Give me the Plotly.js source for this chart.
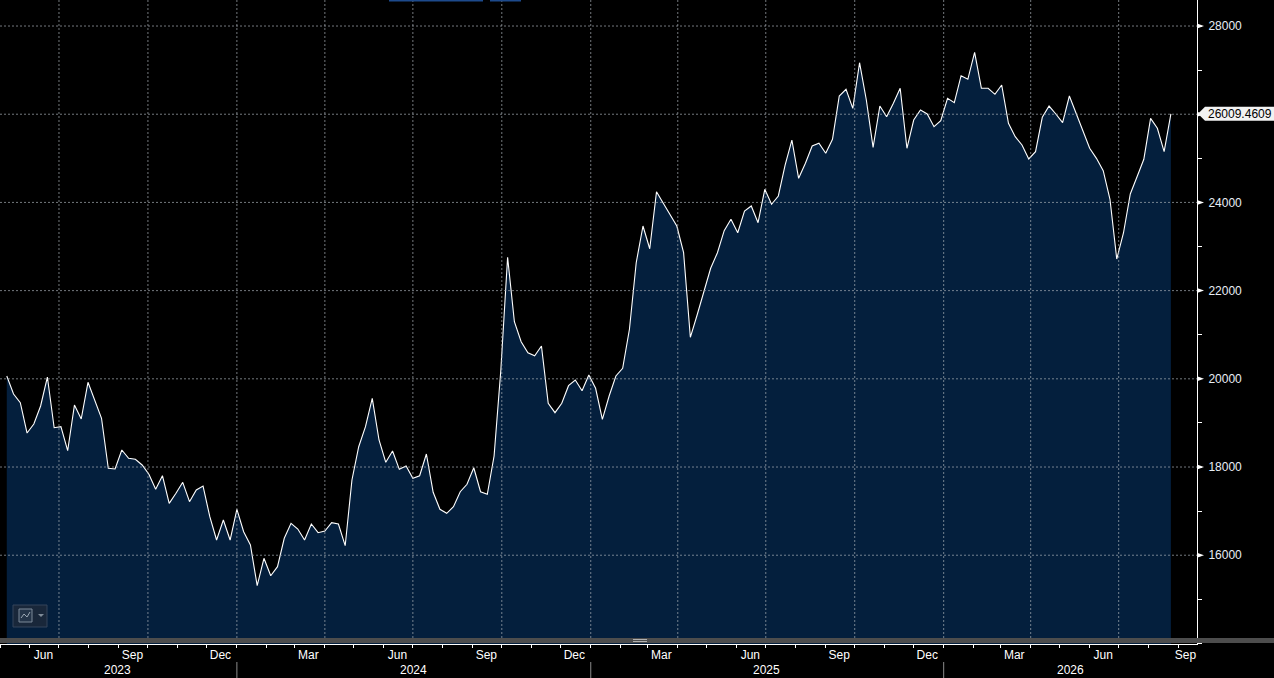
<!DOCTYPE html>
<html>
<head>
<meta charset="utf-8">
<script src="https://cdn.plot.ly/plotly-3.0.1.min.js"></script>
<style>
  html, body { margin: 0; padding: 0; background: #000; }
  #chart { width: 1274px; height: 678px; }
</style>
</head>
<body>
<div id="chart"></div>
<script>
// weekly closes, one array per calendar year
const startDate = "2023-05-08"
const values2023 = [20064, 19656, 19459, 18771, 18975, 19384, 20041, 18891, 18914, 18370,
  19406, 19089, 19921, 19520, 19105, 17971, 17955, 18386, 18198, 18175, 18046, 17835,
  17495, 17803, 17177, 17404, 17653, 17214, 17479, 17569, 16873, 16345, 16798, 16345]
const values2024 = [17041, 16533, 16232, 15309, 15930, 15535, 15740, 16384, 16724, 16594, 16345,
  16708, 16511, 16549, 16737, 16708, 16216, 17706, 18460, 18914, 19558, 18613, 18107, 18363,
  17948, 18023, 17744, 17803, 18295, 17427, 17041, 16950, 17100, 17440, 17608, 17984, 17440,
  17381, 18250, 20200, 22755, 21295, 20841, 20592, 20524, 20744, 19445, 19232, 19445, 19844,
  19973, 19730, 20086]
const values2025 = [19785, 19082, 19610, 20064, 20239, 21123, 22633, 23465, 22950, 24243,
  23980, 23730, 23465, 22860, 20941, 21447, 21998, 22506, 22860, 23359, 23617, 23313, 23805,
  23919, 23540, 24297, 23957, 24146, 24848, 25415, 24547, 24887, 25279, 25341, 25114, 25431,
  26413, 26565, 26134, 27168, 26322, 25250, 26186, 25944, 26248, 26588, 25227, 25869, 26096,
  26005, 25717, 25853]
const values2026 = [26361, 26261, 26873, 26792, 27404, 26588, 26588, 26452, 26663, 25794,
  25490, 25302, 24985, 25150, 25930, 26186, 26005, 25808, 26413, 26005, 25604, 25227, 25000,
  24719, 24071, 22717, 23313, 24191, 24583, 24978, 25907, 25681, 25150, 26009.4609]

const tickDates = ["2023-06-15", "2023-09-15", "2023-12-15", "2024-03-15", "2024-06-15",
  "2024-09-15", "2024-12-15", "2025-03-15", "2025-06-15", "2025-09-15", "2025-12-15",
  "2026-03-15", "2026-06-15", "2026-09-08"]
const tickText = ["Jun", "Sep", "Dec", "Mar", "Jun", "Sep", "Dec", "Mar", "Jun", "Sep", "Dec",
  "Mar", "Jun", "Sep"]
const gridDates = ["2023-07-01", "2023-10-01", "2024-01-01", "2024-04-01", "2024-07-01",
  "2024-10-01", "2025-01-01", "2025-04-01", "2025-07-01", "2025-10-01", "2026-01-01",
  "2026-04-01", "2026-07-01"]
const years = [2023, 2024, 2025, 2026]
const yTicks = [16000, 18000, 20000, 22000, 24000, 26000, 28000]
// 26000 sits under the last-value tag, so its label is left blank
const yTickText = ["16000", "18000", "20000", "22000", "24000", "", "28000"]

const xRange = ["2023-05-01", "2026-09-20"]
const yRange = [13987, 28590]

let values = values2023.concat(values2024, values2025, values2026)
let dates = []
let t0 = new Date(startDate + "T00:00:00Z").getTime()
for (let i = 0; i < values.length; i++) {
  dates.push(new Date(t0 + i * 7 * 86400000).toISOString().slice(0, 10))
}
let last = values[values.length - 1]

// pixel helpers for the decorations (plot area is 1197 x 644)
const plotW = 1197, plotH = 644
const unitsPerPx = (yRange[1] - yRange[0]) / plotH
let px = (x) => x / plotW
let py = (y) => (plotH - y) / plotH

let gridLine = {color: "rgba(165,172,180,0.7)", width: 1, dash: "2px,2px"}
let shapes = []

gridDates.forEach((d) => {
  shapes.push({type: "line", layer: "above", xref: "x", yref: "paper",
    x0: d, x1: d, y0: py(638), y1: 1, line: gridLine})
})
yTicks.forEach((v) => {
  shapes.push({type: "line", layer: "above", xref: "paper", yref: "y",
    x0: 0, x1: 1, y0: v, y1: v, line: gridLine})
  // little arrow head on the axis at each major tick
  let h = 2.5 * unitsPerPx
  shapes.push({type: "path", layer: "above", xref: "paper", yref: "y",
    path: `M 1,${v + h} L ${px(plotW + 7)},${v} L 1,${v - h} Z`,
    fillcolor: "#ffffff", line: {width: 0}})
})

// grey band at the foot of the plot, with its little handle
shapes.push({type: "rect", layer: "above", xref: "paper", yref: "paper",
  x0: 0, x1: px(1274), y0: py(643), y1: py(638), fillcolor: "#4d4d4d", line: {width: 0}})
shapes.push({type: "line", layer: "above", xref: "paper", yref: "paper",
  x0: px(633), x1: px(647), y0: py(639.5), y1: py(639.5), line: {color: "#b0b0b0", width: 1}})
shapes.push({type: "line", layer: "above", xref: "paper", yref: "paper",
  x0: px(633), x1: px(647), y0: py(641.5), y1: py(641.5), line: {color: "#b0b0b0", width: 1}})

// year separators under the axis
years.slice(1).forEach((y) => {
  shapes.push({type: "line", xref: "x", yref: "paper", x0: y + "-01-01", x1: y + "-01-01",
    y0: py(662), y1: py(678), line: {color: "#8a8a8a", width: 1}})
})

// last value tag
let h = 7 * unitsPerPx
shapes.push({type: "path", layer: "above", xref: "paper", yref: "y",
  path: `M ${px(plotW + 1)},${last} L ${px(plotW + 8)},${last + h} L ${px(1274)},${last + h} ` +
    `L ${px(1274)},${last - h} L ${px(plotW + 8)},${last - h} Z`,
  fillcolor: "#f2f2f2", line: {width: 0}})

// thin blue strip along the top edge
shapes.push({type: "rect", layer: "above", xref: "paper", yref: "paper",
  x0: px(389), x1: px(483), y0: py(1.5), y1: 1, fillcolor: "#1d4a8c", line: {width: 0}})
shapes.push({type: "rect", layer: "above", xref: "paper", yref: "paper",
  x0: px(490), x1: px(521), y0: py(1.5), y1: 1, fillcolor: "#1d4a8c", line: {width: 0}})

// chart-type button, bottom left
shapes.push({type: "rect", layer: "above", xref: "paper", yref: "paper",
  x0: px(13), x1: px(47), y0: py(627), y1: py(605), fillcolor: "#19273a",
  line: {color: "#34445a", width: 1}})
shapes.push({type: "rect", layer: "above", xref: "paper", yref: "paper",
  x0: px(19), x1: px(32), y0: py(622), y1: py(609), fillcolor: "#243449",
  line: {color: "#7d8a99", width: 1}})
shapes.push({type: "path", layer: "above", xref: "paper", yref: "paper",
  path: `M ${px(21)},${py(618)} L ${px(24)},${py(614)} L ${px(27)},${py(617)} L ${px(30)},${py(612)}`,
  line: {color: "#9aa6b3", width: 1}})
shapes.push({type: "path", layer: "above", xref: "paper", yref: "paper",
  path: `M ${px(38)},${py(614)} L ${px(44)},${py(614)} L ${px(41)},${py(617)} Z`,
  fillcolor: "#7f8b98", line: {width: 0}})

let annotations = []
let r0 = new Date(xRange[0]).getTime(), r1 = new Date(xRange[1]).getTime()
years.forEach((y) => {
  let a = Math.max(r0, new Date(y + "-01-01").getTime())
  let b = Math.min(r1, new Date((y + 1) + "-01-01").getTime())
  annotations.push({xref: "x", yref: "paper", x: new Date((a + b) / 2).toISOString().slice(0, 10),
    y: py(670), text: String(y), showarrow: false, xanchor: "center", yanchor: "middle",
    font: {color: "#ffffff", size: 12}})
})
annotations.push({xref: "paper", yref: "y", x: px(plotW + 9), y: last,
  text: last.toFixed(4), showarrow: false, xanchor: "left", yanchor: "middle",
  font: {color: "#000000", size: 12}})

let trace = {
  x: dates,
  y: values,
  type: "scatter",
  mode: "lines",
  line: {color: "#ffffff", width: 1.1},
  fill: "tozeroy",
  fillcolor: "#041f3d",
  hoverinfo: "skip",
}

let layout = {
  width: 1274,
  height: 678,
  paper_bgcolor: "#000000",
  plot_bgcolor: "#000000",
  margin: {l: 0, r: 77, t: 0, b: 34},
  showlegend: false,
  font: {family: "Liberation Sans, Arial, sans-serif", size: 12, color: "#e8eef6"},
  xaxis: {
    type: "date",
    range: xRange,
    showgrid: false,
    zeroline: false,
    showline: true,
    linecolor: "#ffffff",
    linewidth: 1,
    tickmode: "array",
    tickvals: tickDates,
    ticktext: tickText,
    ticks: "",
    tickfont: {color: "#ffffff", size: 12},
    minor: {dtick: "M1", tick0: "2023-05-01", ticks: "outside", ticklen: 3,
      tickcolor: "#ffffff", showgrid: false},
  },
  yaxis: {
    side: "right",
    range: yRange,
    showgrid: false,
    zeroline: false,
    showline: true,
    linecolor: "#ffffff",
    linewidth: 1,
    tickmode: "array",
    tickvals: yTicks,
    ticktext: yTickText,
    ticks: "outside",
    ticklen: 8,
    tickcolor: "rgba(0,0,0,0)",
    minor: {dtick: 1000, tick0: 0, ticks: "outside", ticklen: 4, tickcolor: "#ffffff",
      showgrid: false},
  },
  shapes: shapes,
  annotations: annotations,
}

Plotly.newPlot("chart", [trace], layout, {staticPlot: true, displayModeBar: false})
</script>
</body>
</html>
